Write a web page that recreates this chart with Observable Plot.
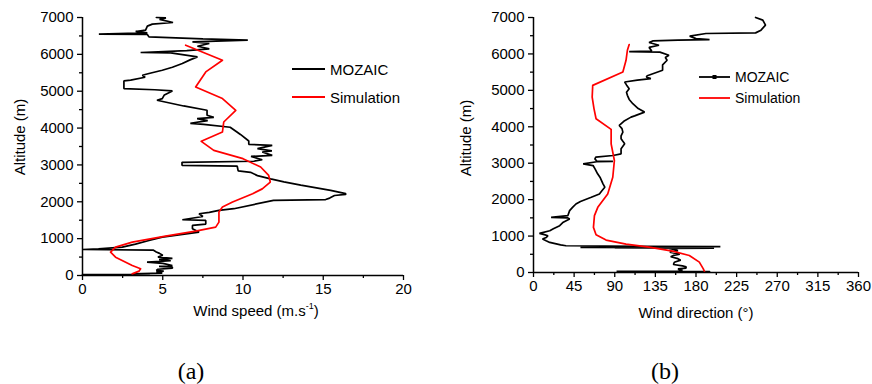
<!DOCTYPE html>
<html><head><meta charset="utf-8">
<script src="https://cdn.jsdelivr.net/npm/d3@7"></script>
<script src="https://cdn.jsdelivr.net/npm/@observablehq/plot@0.6"></script>
<style>
body{margin:0;background:#fff;}
#fig{position:relative;width:872px;height:384px;overflow:hidden;font-family:"Liberation Sans",Arial,sans-serif;color:#000;background:#fff;}
.p{position:absolute;top:0;}
.t{position:absolute;white-space:nowrap;line-height:1;}
.rot{transform:translate(-50%,-50%) rotate(-90deg);}
.ctr{transform:translate(-50%,-50%);}
.cap{position:absolute;font-family:"Liberation Serif","Times New Roman",serif;font-size:24px;line-height:1;transform:translate(-50%,-50%);}
sup{font-size:9px;vertical-align:7px;line-height:0;}
</style></head><body><div id="fig"></div>
<script>
// ---------- data ----------
const altMajor = [0,1000,2000,3000,4000,5000,6000,7000];
const altMinor = [500,1500,2500,3500,4500,5500,6500];
const speedMajor = [0,5,10,15,20];
const speedMinor = [2.5,7.5,12.5,17.5];
const dirMajor = [0,45,90,135,180,225,270,315,360];
const dirMinor = [22.5,67.5,112.5,157.5,202.5,247.5,292.5,337.5];

// (a) MOZAIC wind speed profile
const mozSpeedAlt = [7000,6990,6947,6865,6820,6765,6657,6621,6584,6548,6540,6475,6420,6385,6340,6294,6221,6180,6149,6100,6050,6040,5931,5850,5752,5650,5570,5480,5434,5380,5300,5280,5072,5040,5008,4900,4800,4755,4600,4483,4347,4290,4257,4200,4130,4100,4023,3900,3827,3650,3560,3530,3442,3380,3350,3258,3230,3140,3100,3070,2990,2965,2840,2800,2710,2620,2540,2450,2310,2220,2200,2170,2100,2060,2038,1812,1766,1712,1676,1600,1513,1494,1395,1358,1268,1177,1100,1041,951,850,770,725,706,690,640,600,550,500,463,430,400,362,330,272,250,226,199,170,136,118,90,63,45,32,22];
const mozSpeed    = [4.6,5.2,4.8,5.64,4.35,4.04,3.93,3.31,4.04,1.02,4.04,4.14,7.5,10.3,6.85,7.9,7.16,7.6,7.9,6.5,3.62,5.5,7.16,6.7,6.22,5.6,4.97,4.14,3.73,3.9,3.0,2.58,2.58,4.5,5.6,5.1,4.97,4.64,6.3,7.76,7.76,8.18,7.14,7.8,6.72,7.55,9.2,9.6,9.84,10.36,10.36,11.82,10.9,11.8,11.2,11.82,10.5,11.2,10.67,6.2,6.2,9.64,9.7,10.47,10.9,11.72,12.55,13.6,15.46,16.4,16.4,15.7,15.4,15.15,11.9,9.43,8.5,7.9,7.26,7.5,6.22,7.68,7.68,6.85,6.85,7.26,6.0,4.97,4.14,3.3,2.48,1.0,0,4.4,4.6,4.8,5.0,4.7,5.6,4.77,5.5,4.02,5.0,5.6,4.77,5.6,5.6,4.7,4.6,5.06,4.6,4.97,3.1,4.2,0];
// (a) Simulation wind speed profile
const simSpeedAlt = [6249,5841,5524,5116,4800,4483,4165,3893,3640,3396,3170,2943,2717,2535,2350,2220,1992,1856,1720,1448,1312,1204,1068,905,770,634,498,272,181,118,45];
const simSpeed    = [6.43,8.72,7.68,7.05,8.72,9.55,8.8,8.72,7.4,8.18,10.0,11.1,11.6,11.7,11.2,10.6,9.35,8.72,8.5,8.5,8.3,7.05,5.18,3.1,2.06,1.75,2.06,3.1,3.62,3.52,3.1];

// (b) MOZAIC wind direction profile
const mozDirAlt = [7000,6927,6790,6652,6578,6561,6487,6420,6395,6380,6357,6313,6239,6180,6080,6062,6050,5964,5900,5826,5700,5550,5400,5366,5322,5280,5229,5150,5047,4950,4863,4750,4634,4500,4403,4300,4265,4150,4037,3950,3853,3750,3671,3600,3533,3400,3258,3212,3166,3120,3060,3050,3040,2983,2936,2850,2708,2600,2433,2341,2250,2157,2065,1950,1881,1780,1698,1560,1514,1500,1468,1380,1284,1200,1147,1073,1040,1009,960,918,870,826,760,734,720,712,705,698,690,684,676,668,660,640,600,560,505,470,431,380,339,280,220,180,156,121,100,60,40,32,28];
const mozDir    = [246,254,257,252,246,191,173,180,195,160,132,128,139,128,131,106,140,150,146,148,143,143,126,125,130,115,101,103,106,103,104,106,110,116,123,112,108,100,95,98,99,97,97,99,101,97,97,88,69,68,70,88,70,55,66,68,71,74,77,79,76,73,64,52,47,43,40,38,19.5,38,40,33,29,22,18,6.6,12,16,14,10,14,18,30,36,120,207,60,190,52,170,90,200,150,154,160,151,162,155,152,160,163,156,155,165,169,169,160,165,160,92,195];
// (b) Simulation wind direction profile
const simDirAlt = [6258,6101,5826,5504,5137,4816,4500,4220,3929,3533,3074,2615,2157,1789,1560,1239,1037,891,780,698,587,468,284,101,20];
const simDir    = [106,104,102.5,99,65.6,65,67,69.3,86,86,89.6,87.8,82.2,71.2,67.5,66.4,69.3,80.4,102.5,128,154,172.6,183.7,188.1,189.5];

// ---------- drawing ----------
const rows = (alt, v) => alt.map((a, i) => ({alt: a, v: v[i]}));
const fig = document.getElementById("fig");

function panel({mo, sim, xDomain, xMajor, xMinor, width, ml, mr, mb}) {
  return Plot.plot({
    width, height: 320, marginLeft: ml, marginRight: mr, marginTop: 17, marginBottom: mb,
    x: {domain: xDomain},
    y: {domain: [0, 7000]},
    style: {fontFamily: '"Liberation Sans", Arial, sans-serif', fontSize: "15px", color: "black", background: "transparent", overflow: "visible"},
    marks: [
      Plot.axisX({ticks: xMajor, tickSize: 5, tickPadding: 3, strokeWidth: 1.3, label: null, tickFormat: d => String(d)}),
      Plot.axisX({ticks: xMinor, tickSize: 3, strokeWidth: 1.3, label: null, tickFormat: () => ""}),
      Plot.axisY({ticks: altMajor, tickSize: 5, tickPadding: 4, strokeWidth: 1.3, label: null, tickFormat: d => String(d)}),
      Plot.axisY({ticks: altMinor, tickSize: 3, strokeWidth: 1.3, label: null, tickFormat: () => ""}),
      Plot.line(mo, {x: "v", y: "alt", stroke: "black", strokeWidth: 1.7, strokeLinejoin: "miter"}),
      Plot.line(sim, {x: "v", y: "alt", stroke: "#ff0000", strokeWidth: 1.7}),
      Plot.ruleX([xDomain[0]], {strokeWidth: 1.5}),
      Plot.ruleY([0], {strokeWidth: 1.5})
    ]
  });
}

const a = panel({mo: rows(mozSpeedAlt, mozSpeed), sim: rows(simSpeedAlt, simSpeed), xDomain: [0, 20],
  xMajor: speedMajor, xMinor: speedMinor, width: 420, ml: 82, mr: 17, mb: 45});
a.classList.add("p"); a.style.left = "0px";
fig.appendChild(a);

const b = panel({mo: rows(mozDirAlt, mozDir), sim: rows(simDirAlt, simDir), xDomain: [0, 360],
  xMajor: dirMajor, xMinor: dirMinor, width: 432, ml: 93, mr: 14, mb: 48});
b.classList.add("p"); b.style.left = "440px";
fig.appendChild(b);

// axis titles, legends, captions
function addText(html, x, y, cls, size) {
  const d = document.createElement("div");
  d.className = "t " + cls;
  d.style.left = x + "px"; d.style.top = y + "px"; d.style.fontSize = size + "px";
  d.innerHTML = html;
  fig.appendChild(d);
}
addText("Altitude (m)", 19, 137, "rot", 15);
addText("Altitude (m)", 465, 138, "rot", 15);
addText("Wind speed (m.s<sup>-1</sup>)", 256, 310, "ctr", 15);
addText("Wind direction (°)", 696, 312, "ctr", 15);

function legendItem(x1, x2, y, color, label, size, marker) {
  const s = document.createElementNS("http://www.w3.org/2000/svg", "svg");
  s.setAttribute("width", x2 - x1); s.setAttribute("height", 6);
  s.style.position = "absolute"; s.style.left = x1 + "px"; s.style.top = (y - 3) + "px";
  s.innerHTML = `<line x1="0" x2="${x2 - x1}" y1="3" y2="3" stroke="${color}" stroke-width="1.8"/>` +
    (marker ? `<rect x="${(x2 - x1) / 2 - 2}" y="1" width="4" height="4" fill="${color}"/>` : "");
  fig.appendChild(s);
  addText(label, x2 + 5, y, "", size);
  fig.lastChild.style.transform = "translateY(-50%)";
}
legendItem(292, 325, 69, "black", "MOZAIC", 15, false);
legendItem(292, 325, 97, "#ff0000", "Simulation", 15, false);
legendItem(699, 730, 77, "black", "MOZAIC", 14, true);
legendItem(699, 730, 98, "#ff0000", "Simulation", 14, false);

const c1 = document.createElement("div"); c1.className = "cap"; c1.textContent = "(a)";
c1.style.left = "191px"; c1.style.top = "371px"; fig.appendChild(c1);
const c2 = document.createElement("div"); c2.className = "cap"; c2.textContent = "(b)";
c2.style.left = "665px"; c2.style.top = "371px"; fig.appendChild(c2);
</script>
</body></html>
